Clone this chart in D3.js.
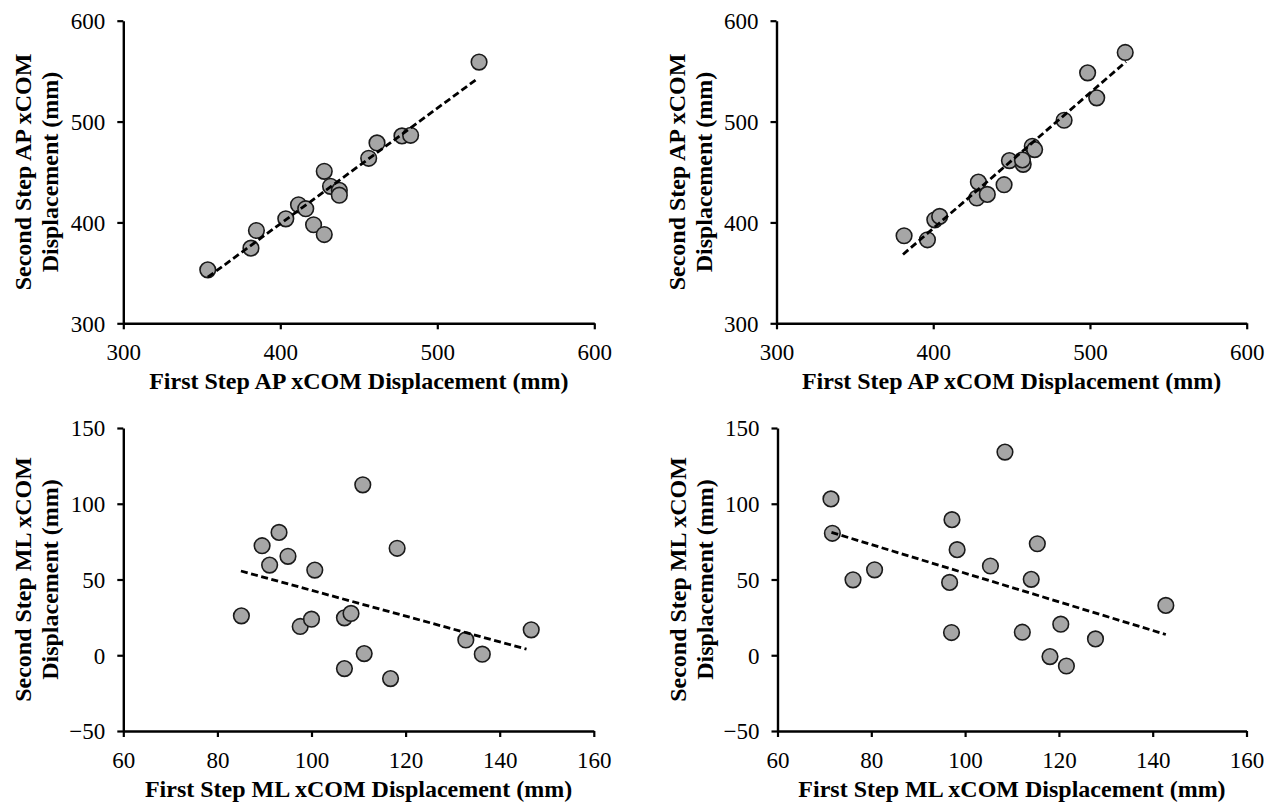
<!DOCTYPE html>
<html>
<head>
<meta charset="utf-8">
<script src="https://cdn.jsdelivr.net/npm/d3@7"></script>
<style>
  html, body { margin: 0; padding: 0; background: #ffffff; }
  svg { display: block; }
  .tick text { font-family: "Liberation Serif", "Times New Roman", serif; font-size: 23px; fill: #000; }
  .axis-title { font-family: "Liberation Serif", "Times New Roman", serif; font-size: 24px; font-weight: bold; fill: #000; }
</style>
</head>
<body>
<svg id="chart" width="1279" height="807"></svg>
<script>
// First step vs second step xCOM displacement (mm)

// Top-left: AP, condition A
const apAFirst  = [353.8, 381.3, 384.8, 403.5, 411.6, 416.2, 421.2, 428.0, 428.0, 432.0, 437.6, 437.6, 456.3, 461.6, 477.5, 483.0, 526.6];
const apASecond = [353.0, 374.5, 392.0, 403.6, 417.5, 413.6, 397.7, 388.0, 450.7, 435.8, 431.8, 427.0, 463.6, 478.8, 485.8, 486.4, 559.0];
const apATrend  = [[353.8, 345.7], [526.0, 543.0]];

// Top-right: AP, condition B
const apBFirst  = [381.4, 396.3, 401.0, 404.1, 427.8, 428.8, 434.5, 445.2, 448.6, 457.4, 456.9, 463.2, 464.7, 483.5, 498.5, 504.3, 522.5];
const apBSecond = [386.8, 382.8, 402.6, 406.0, 424.2, 440.0, 427.8, 437.4, 461.3, 457.6, 462.0, 475.5, 472.2, 501.3, 548.3, 523.5, 568.5];
const apBTrend  = [[380.7, 368.2], [523.0, 559.3]];

// Bottom-left: ML, condition A
const mlAFirst  = [85.1, 89.5, 91.1, 93.1, 95.0, 97.6, 100.0, 100.7, 107.0, 107.0, 108.4, 110.9, 111.2, 116.8, 118.2, 132.8, 136.3, 146.7];
const mlASecond = [26.0, 72.3, 59.5, 81.1, 65.3, 19.0, 23.8, 56.2, -8.8, 24.7, 27.6, 112.5, 1.1, -15.4, 70.6, 10.1, 0.7, 16.8];
const mlATrend  = [[85.0, 55.6], [145.7, 4.0]];

// Bottom-right: ML, condition B
const mlBFirst  = [71.4, 71.7, 76.1, 80.7, 96.7, 97.1, 97.2, 98.3, 105.4, 108.5, 112.2, 114.1, 115.4, 118.1, 120.4, 121.6, 127.8, 142.8];
const mlBSecond = [103.2, 80.5, 49.8, 56.4, 48.1, 15.0, 89.5, 69.7, 58.9, 134.1, 15.2, 50.1, 73.6, -0.9, 20.5, -7.1, 10.8, 32.9];
const mlBTrend  = [[71.5, 81.1], [142.8, 13.7]];

// Axis ticks
const apTicks  = [300, 400, 500, 600];
const mlXTicks = [60, 80, 100, 120, 140, 160];
const mlYTicks = [-50, 0, 50, 100, 150];

// Axis titles
const apXTitle = "First Step AP xCOM Displacement (mm)";
const apYTitle = ["Second Step AP xCOM", "Displacement (mm)"];
const mlXTitle = "First Step ML xCOM Displacement (mm)";
const mlYTitle = ["Second Step ML xCOM", "Displacement (mm)"];

const panels = [
  { xs: apAFirst, ys: apASecond, trend: apATrend, xDom: [300, 600], yDom: [300, 600], xTicks: apTicks, yTicks: apTicks,
    xTitle: apXTitle, yTitle: apYTitle, left: 123.3, right: 594.3, top: 20.7, bottom: 323.3 },
  { xs: apBFirst, ys: apBSecond, trend: apBTrend, xDom: [300, 600], yDom: [300, 600], xTicks: apTicks, yTicks: apTicks,
    xTitle: apXTitle, yTitle: apYTitle, left: 776.5, right: 1246.7, top: 20.7, bottom: 323.3 },
  { xs: mlAFirst, ys: mlASecond, trend: mlATrend, xDom: [60, 160], yDom: [-50, 150], xTicks: mlXTicks, yTicks: mlYTicks,
    xTitle: mlXTitle, yTitle: mlYTitle, left: 123.3, right: 593.8, top: 428, bottom: 731 },
  { xs: mlBFirst, ys: mlBSecond, trend: mlBTrend, xDom: [60, 160], yDom: [-50, 150], xTicks: mlXTicks, yTicks: mlYTicks,
    xTitle: mlXTitle, yTitle: mlYTitle, left: 777.5, right: 1246.5, top: 428, bottom: 731 }
];

const svg = d3.select("#chart");

panels.forEach(p => {
  const x = d3.scaleLinear().domain(p.xDom).range([p.left, p.right]);
  const y = d3.scaleLinear().domain(p.yDom).range([p.bottom, p.top]);
  const g = svg.append("g");

  // axes
  const xAxis = g.append("g")
    .attr("transform", `translate(0,${p.bottom})`)
    .call(d3.axisBottom(x).tickValues(p.xTicks).tickFormat(d3.format("d")).tickSizeOuter(0).tickSizeInner(6).tickPadding(10));
  const yAxis = g.append("g")
    .attr("transform", `translate(${p.left},0)`)
    .call(d3.axisLeft(y).tickValues(p.yTicks).tickFormat(d3.format("d")).tickSizeOuter(0).tickSizeInner(6).tickPadding(12));
  [xAxis, yAxis].forEach(a => {
    a.select(".domain").attr("stroke", "#000").attr("stroke-width", 2.4);
    a.selectAll(".tick line").attr("stroke", "#000").attr("stroke-width", 2.2);
    a.attr("font-family", null).attr("font-size", null);
  });
  xAxis.selectAll(".tick text").attr("dy", "0.9em");
  yAxis.selectAll(".tick text").attr("dy", "0.34em");

  // markers
  const pts = p.xs.map((v, i) => [v, p.ys[i]]);
  g.append("g").selectAll("circle")
    .data(pts)
    .join("circle")
    .attr("cx", d => x(d[0]))
    .attr("cy", d => y(d[1]))
    .attr("r", 7.8)
    .attr("fill", "#a6a6a6")
    .attr("stroke", "#1a1a1a")
    .attr("stroke-width", 1.6);

  // linear trendline
  g.append("path")
    .datum(p.trend)
    .attr("d", d3.line().x(d => x(d[0])).y(d => y(d[1])))
    .attr("fill", "none")
    .attr("stroke", "#000")
    .attr("stroke-width", 2.8)
    .attr("stroke-dasharray", "7,3.5");

  // axis titles
  g.append("text")
    .attr("class", "axis-title")
    .attr("x", (p.left + p.right) / 2)
    .attr("y", p.bottom + 66)
    .attr("text-anchor", "middle")
    .text(p.xTitle);

  const cy = (p.top + p.bottom) / 2;
  p.yTitle.forEach((line, i) => {
    const bx = p.left - 92 + i * 27;
    g.append("text")
      .attr("class", "axis-title")
      .attr("transform", `translate(${bx},${cy}) rotate(-90)`)
      .attr("text-anchor", "middle")
      .text(line);
  });
});
</script>
</body>
</html>
